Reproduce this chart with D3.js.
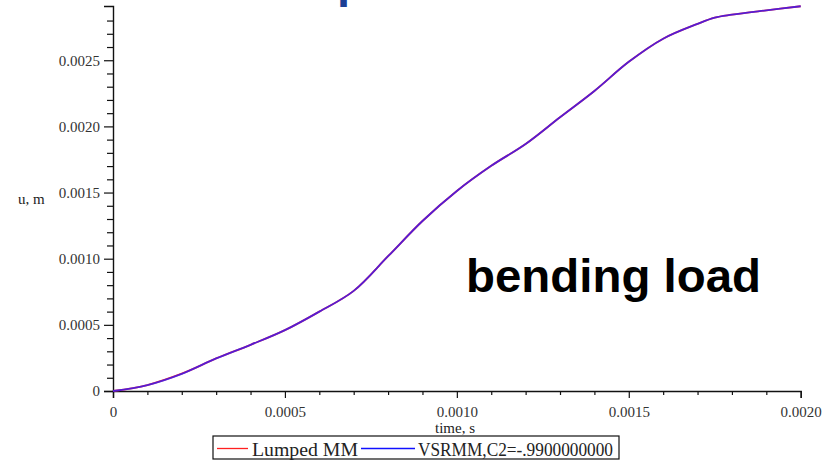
<!DOCTYPE html>
<html>
<head>
<meta charset="utf-8">
<script src="https://cdn.jsdelivr.net/npm/d3@7"></script>
<style>
  body { margin: 0; background: #fff; }
  svg { display: block; }
</style>
</head>
<body>
<svg id="chart"></svg>
<script>
// déplacement sous charge de flexion
const time = [0, 0.0001, 0.0002, 0.0003, 0.0004, 0.0005, 0.0006, 0.0007, 0.0008, 0.0009,
  0.0010, 0.0011, 0.0012, 0.0013, 0.0014, 0.0015, 0.0016, 0.0017, 0.00175, 0.0018, 0.0019, 0.0020];
const lumpedMM = [0, 0.0000453, 0.000131, 0.000246, 0.000349, 0.000460, 0.000600, 0.000757, 0.001019, 0.001285,
  0.001512, 0.001702, 0.001867, 0.002069, 0.002268, 0.002488, 0.002663, 0.002775, 0.002822, 0.002844, 0.002877, 0.002908];
const vsrmm = [0, 0.0000450, 0.000130, 0.000246, 0.000349, 0.000460, 0.000600, 0.000757, 0.001019, 0.001285,
  0.001512, 0.001702, 0.001867, 0.002069, 0.002268, 0.002488, 0.002663, 0.002775, 0.002822, 0.002844, 0.002877, 0.002908];

const xMajor = [0, 0.0005, 0.0010, 0.0015, 0.0020];
const yMajor = [0, 0.0005, 0.0010, 0.0015, 0.0020, 0.0025];
const seriesNames = ["Lumped MM", "VSRMM,C2=-.9900000000"];

const width = 833, height = 461;
const svg = d3.select("#chart").attr("width", width).attr("height", height);

const x = d3.scaleLinear().domain([0, 0.002]).range([113, 800.7]);
const y = d3.scaleLinear().domain([0, 0.00291]).range([391, 6]);

const fmt = d => d === 0 ? "0" : d3.format(".4f")(d);
const serif = "Liberation Serif, Times New Roman, serif";

// minor ticks, every 0.0001
const xMinor = d3.range(1, 20).map(i => i * 0.0001).filter(v => Math.abs(v / 0.0005 - Math.round(v / 0.0005)) > 1e-6);
const yMinor = d3.range(1, 29).map(i => i * 0.0001).filter(v => Math.abs(v / 0.0005 - Math.round(v / 0.0005)) > 1e-6);

// bout de titre coupé en haut
svg.append("text")
  .attr("x", 337).attr("y", -3)
  .attr("font-family", "Liberation Sans, Arial, sans-serif")
  .attr("font-weight", "bold").attr("font-size", 47)
  .attr("fill", "#1c3f94")
  .text("p");

const gx = svg.append("g").attr("transform", "translate(0,391)");
gx.call(d3.axisBottom(x).tickValues(xMinor).tickSize(4).tickFormat(""));
gx.append("g").call(d3.axisBottom(x).tickValues(xMajor).tickSize(7).tickPadding(8).tickFormat(fmt));

const gy = svg.append("g").attr("transform", "translate(113,0)");
gy.call(d3.axisLeft(y).tickValues(yMinor).tickSize(6).tickFormat(""));
gy.append("g").call(d3.axisLeft(y).tickValues(yMajor).tickSize(9).tickPadding(4).tickFormat(fmt));

svg.selectAll(".domain").attr("stroke", "#111").attr("stroke-width", 1.4);
svg.selectAll(".tick line").attr("stroke", "#111").attr("stroke-width", 1.2);
svg.selectAll(".tick text")
  .attr("font-family", serif).attr("font-size", 15).attr("fill", "#333");
// pas de double domaine
gx.select("g .domain").remove();
gy.select("g .domain").remove();

// titres des axes
svg.append("text").attr("x", 18).attr("y", 204)
  .attr("font-family", serif).attr("font-size", 15).attr("fill", "#222")
  .text("u, m");
svg.append("text").attr("x", 455).attr("y", 433).attr("text-anchor", "middle")
  .attr("font-family", serif).attr("font-size", 15).attr("fill", "#222")
  .text("time, s");

// courbes
const line = d3.line().curve(d3.curveCatmullRom)
  .x(d => x(d[0])).y(d => y(d[1]));

svg.append("path")
  .datum(time.map((t, i) => [t, lumpedMM[i]]))
  .attr("d", line)
  .attr("fill", "none").attr("stroke", "#ff2020").attr("stroke-width", 1.8);

svg.append("path")
  .datum(time.map((t, i) => [t, vsrmm[i]]))
  .attr("d", line)
  .attr("fill", "none").attr("stroke", "#2a1aff").attr("stroke-width", 1.8)
  .attr("stroke-opacity", 0.8);

// annotation
svg.append("text").attr("x", 466).attr("y", 292)
  .attr("font-family", "Liberation Sans, Arial, sans-serif")
  .attr("font-weight", "bold").attr("font-size", 47).attr("fill", "#000")
  .attr("textLength", 295).attr("lengthAdjust", "spacingAndGlyphs")
  .text("bending load");

// légende
const legend = svg.append("g");
legend.append("rect").attr("x", 213).attr("y", 436).attr("width", 406).attr("height", 23)
  .attr("fill", "#fff").attr("stroke", "#111").attr("stroke-width", 1.2);

const legItems = [
  {name: seriesNames[0], color: "#ff2020", x1: 217, x2: 248, tx: 252, tw: 106},
  {name: seriesNames[1], color: "#1010ff", x1: 361, x2: 415, tx: 418, tw: 195}
];
legItems.forEach(d => {
  legend.append("line").attr("x1", d.x1).attr("x2", d.x2).attr("y1", 448.5).attr("y2", 448.5)
    .attr("stroke", d.color).attr("stroke-width", 1.3);
  legend.append("text").attr("x", d.tx).attr("y", 455.5)
    .attr("font-family", serif).attr("font-size", 18).attr("fill", "#222")
    .attr("textLength", d.tw).attr("lengthAdjust", "spacingAndGlyphs")
    .text(d.name);
});
</script>
</body>
</html>
